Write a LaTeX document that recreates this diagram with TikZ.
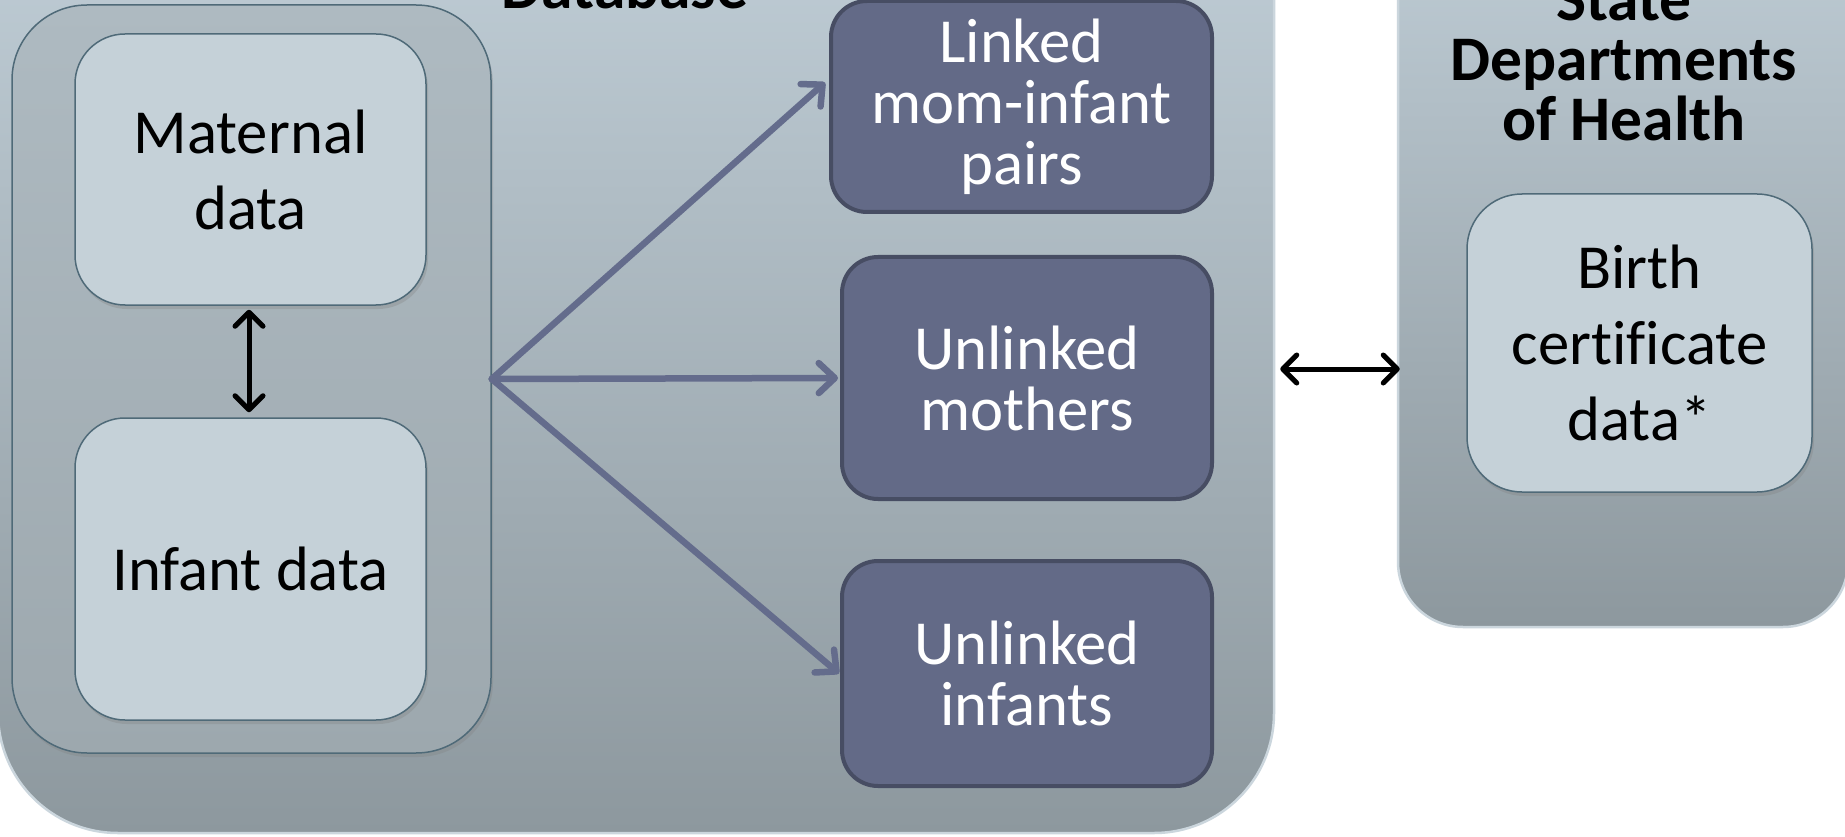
\documentclass[tikz,border=0pt]{standalone}
\usepackage{fontspec}
\setmainfont{Carlito}[Ligatures=CommonOff]
\usetikzlibrary{arrows.meta,shadows,calc}
\definecolor{paneltop}{HTML}{C3D1DA}
\definecolor{panelbot}{HTML}{8D989E}
\definecolor{panelrim}{HTML}{CBD6DD}
\definecolor{innertop}{HTML}{AEBAC1}
\definecolor{innerbot}{HTML}{9DA8AE}
\definecolor{lightfill}{HTML}{C5D1D8}
\definecolor{lightedge}{HTML}{4F6A78}
\definecolor{darkfill}{HTML}{636A87}
\definecolor{darkedge}{HTML}{474D63}
\definecolor{arrowgray}{HTML}{646C8C}
\tikzset{
  panel/.style={draw=panelrim, line width=2.5pt, top color=paneltop, bottom color=panelbot},
  innerpanel/.style={draw=lightedge, line width=1.5pt, top color=innertop, bottom color=innerbot,
    rounded corners=75pt, drop shadow={shadow xshift=2pt, shadow yshift=-4pt, opacity=.3}},
  lightbox/.style={draw=lightedge, line width=1.5pt, fill=lightfill, rounded corners=50pt,
    align=center, text=black, font={\fontsize{62.7}{76}\selectfont},
    drop shadow={shadow xshift=2pt, shadow yshift=-4pt, opacity=.3}},
  darkbox/.style={draw=darkedge, line width=4pt, fill=darkfill, rounded corners=36pt,
    align=center, text=white, font={\fontsize{62.7}{61}\selectfont}},
  title/.style={align=center, font={\fontsize{63.5}{60}\selectfont\bfseries}},
  grayarrow/.style={draw=arrowgray, line width=6.5pt, line cap=round,
    -{Straight Barb[round,length=16pt,width=30pt]}},
  blackarrow/.style={draw=black, line width=5pt, line cap=round,
    {Straight Barb[round,length=14pt,width=28pt]}-{Straight Barb[round,length=14pt,width=28pt]}}
}
\begin{document}
\begin{tikzpicture}[x=1pt,y=-1pt]
\useasboundingbox (0,0) rectangle (1845,837);
\clip (0,0) rectangle (1845,837);
\fill[white] (0,0) rectangle (1845,837);
% panels
\node[panel, rounded corners=120pt, minimum width=1276pt, minimum height=983pt] (db) at (636,341.5) {};
\node[panel, rounded corners=65pt, minimum width=450pt, minimum height=777pt] (state) at (1623,238.5) {};
% titles
\node[title, anchor=base] (dbtitle) at (625,9) {Database};
\node[title, anchor=base] (statetitle) at (1624,141) {State\\Departments\\of Health};
% left inner panel
\node[innerpanel, minimum width=479pt, minimum height=748pt] (inner) at (251.5,379) {};
\node[lightbox, minimum width=351pt, minimum height=271pt] (maternal) at (250.5,169.5) {Maternal\\data};
\node[lightbox, minimum width=351pt, minimum height=302pt] (infant) at (250.5,569) {Infant data};
% dark boxes
\node[darkbox, minimum width=381pt, minimum height=211pt] (linked) at (1021.5,106.5) {Linked\\mom-infant\\pairs};
\node[darkbox, minimum width=370pt, minimum height=242pt] (mothers) at (1027,378) {Unlinked\\mothers};
\node[darkbox, minimum width=370pt, minimum height=225pt] (infants) at (1027,673.5) {Unlinked\\infants};
% birth certificate
\node[lightbox, rounded corners=55pt, minimum width=345pt, minimum height=298pt] (birth) at (1639.5,343) {Birth\\certificate\\data*};
% connectors
\coordinate (src) at (inner.east);
\draw[grayarrow] (src) -- ($(linked.west)+(-4,-24)$);
\draw[grayarrow] (src) -- ($(mothers.west)+(-2,0)$);
\draw[grayarrow] (src) -- ($(infants.west)+(-1,0)$);
\draw[blackarrow] ($(maternal.south)+(-1.5,4)$) -- ($(infant.north)+(-1.5,-5)$);
\coordinate (hy) at (0,369);
\draw[blackarrow] ($(db.east |- hy)+(5,0)$) -- ($(state.west |- hy)+(3,0)$);
\end{tikzpicture}
\end{document}
